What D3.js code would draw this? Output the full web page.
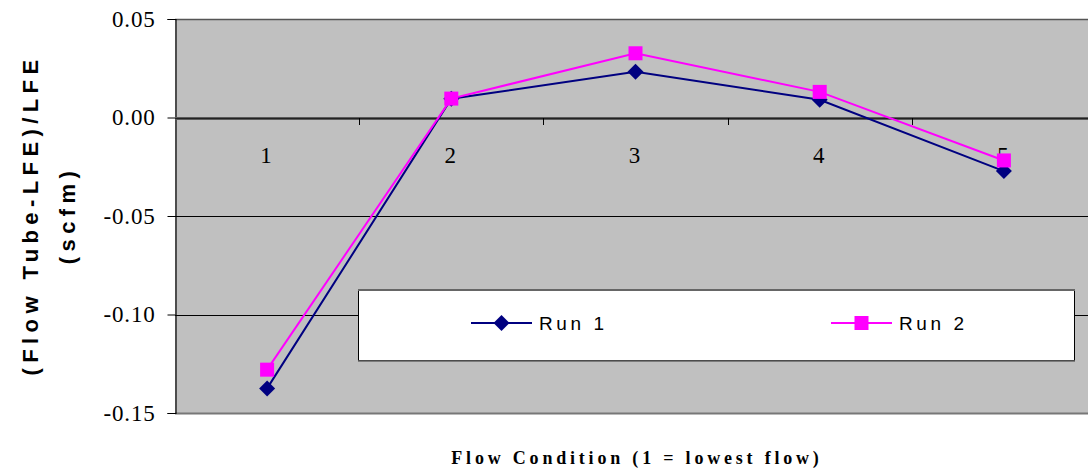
<!DOCTYPE html>
<html>
<head>
<meta charset="utf-8">
<script src="https://cdn.jsdelivr.net/npm/d3@7"></script>
<style>
  html, body { margin: 0; padding: 0; background: #ffffff; }
  svg { display: block; }
</style>
</head>
<body>
<svg id="chart" width="1088" height="468"></svg>
<script>
// Flow condition categories and the two runs
const categories = ["1", "2", "3", "4", "5"];
const run1 = [-0.1375, 0.0095, 0.0232, 0.0090, -0.0272];
const run2 = [-0.1280, 0.0096, 0.0326, 0.0130, -0.0218];
const seriesNames = ["Run 1", "Run 2"];
const yTicks = [0.05, 0.00, -0.05, -0.10, -0.15];

const svg = d3.select("#chart");
const plotLeft = 175, plotRight = 1096, plotTop = 19, plotBottom = 413;
const serif = "'Liberation Serif', 'Times New Roman', serif";
const sans = "'Liberation Sans', Arial, sans-serif";

const x = d3.scalePoint().domain(categories).range([plotLeft, plotRight]).padding(0.5);
const step = x.step();
const y = d3.scaleLinear().domain([-0.15, 0.05]).range([plotBottom, plotTop]);

// plot area
svg.append("rect")
  .attr("x", plotLeft).attr("y", plotTop)
  .attr("width", 1088 - plotLeft).attr("height", plotBottom - plotTop)
  .attr("fill", "#c0c0c0");

// horizontal gridlines
svg.append("g").selectAll("line")
  .data(yTicks.filter(d => d !== 0 && d !== -0.15))
  .join("line")
  .attr("x1", plotLeft).attr("x2", 1088)
  .attr("y1", d => Math.round(y(d)) + 0.5).attr("y2", d => Math.round(y(d)) + 0.5)
  .attr("stroke", d => d === 0.05 ? "#555" : "#000")
  .attr("stroke-width", d => d === 0.05 ? 1.5 : 1);

// bottom border
svg.append("line")
  .attr("x1", plotLeft).attr("x2", 1088)
  .attr("y1", plotBottom + 0.5).attr("y2", plotBottom + 0.5)
  .attr("stroke", "#777").attr("stroke-width", 2);

// value axis
const yAxis = d3.axisLeft(y).tickValues(yTicks).tickSize(8).tickPadding(12)
  .tickFormat(d => d3.format(".2f")(d).replace("−", "-"));
const gy = svg.append("g").attr("transform", `translate(${plotLeft + 0.5},0)`).call(yAxis);
gy.attr("font-family", serif).attr("font-size", 23);
gy.select(".domain").attr("stroke", "#000").attr("stroke-width", 1.2);
gy.selectAll(".tick line").attr("stroke", "#000");
gy.selectAll(".tick text")
  .style("font-family", serif)
  .attr("font-size", 23).attr("letter-spacing", 0.8).attr("fill", "#000");

// category axis along zero
const y0 = Math.round(y(0));
svg.append("line")
  .attr("x1", plotLeft).attr("x2", 1088)
  .attr("y1", y0 + 0.5).attr("y2", y0 + 0.5)
  .attr("stroke", "#5a5a5a").attr("stroke-width", 3);
svg.append("line")
  .attr("x1", plotLeft).attr("x2", 1088)
  .attr("y1", y0 + 0.5).attr("y2", y0 + 0.5)
  .attr("stroke", "#222").attr("stroke-width", 1);
svg.append("g").selectAll("line")
  .data(categories.slice(1))
  .join("line")
  .attr("x1", d => Math.round(x(d) - step / 2) + 0.5)
  .attr("x2", d => Math.round(x(d) - step / 2) + 0.5)
  .attr("y1", y0).attr("y2", y0 + 7)
  .attr("stroke", "#000");
svg.append("g").selectAll("text")
  .data(categories)
  .join("text")
  .attr("x", d => x(d) - 1).attr("y", y0 + 45)
  .attr("text-anchor", "middle")
  .style("font-family", serif)
  .attr("font-size", 23).attr("fill", "#000")
  .text(d => d);

// series lines and markers
const series = [
  { name: seriesNames[0], values: run1, color: "#000080", shape: "diamond" },
  { name: seriesNames[1], values: run2, color: "#ff00ff", shape: "square" }
];
const line = d3.line().x((d, i) => x(categories[i])).y(d => y(d));

function marker(g, shape, color) {
  if (shape === "diamond") {
    g.append("path").attr("d", "M0,-8 L8,0 L0,8 L-8,0 Z").attr("fill", color);
  } else {
    g.append("rect").attr("x", -7).attr("y", -7).attr("width", 14).attr("height", 14).attr("fill", color);
  }
}

series.forEach(s => {
  svg.append("path")
    .datum(s.values)
    .attr("d", line)
    .attr("fill", "none")
    .attr("stroke", s.color)
    .attr("stroke-width", 2);
});
series.forEach(s => {
  s.values.forEach((v, i) => {
    const g = svg.append("g").attr("transform", `translate(${x(categories[i])},${y(v)})`);
    marker(g, s.shape, s.color);
  });
});

// legend
const legend = svg.append("g");
legend.append("rect")
  .attr("x", 358.5).attr("y", 290.5).attr("width", 716).attr("height", 70)
  .attr("fill", "#fff").attr("stroke", "#000").attr("stroke-width", 1);
legend.append("line")
  .attr("x1", 358).attr("x2", 1075).attr("y1", 290).attr("y2", 290)
  .attr("stroke", "#666").attr("stroke-width", 2);
legend.append("line")
  .attr("x1", 358).attr("x2", 1075).attr("y1", 361).attr("y2", 361)
  .attr("stroke", "#666").attr("stroke-width", 1.5);
const legendX = [471, 831];
series.forEach((s, i) => {
  const lx = legendX[i], ly = 323;
  legend.append("line")
    .attr("x1", lx).attr("x2", lx + 61).attr("y1", ly).attr("y2", ly)
    .attr("stroke", s.color).attr("stroke-width", 2);
  const g = legend.append("g").attr("transform", `translate(${lx + 30.5},${ly})`);
  marker(g, s.shape, s.color);
  legend.append("text")
    .attr("x", lx + 68).attr("y", ly + 7)
    .style("font-family", sans)
    .attr("font-size", 19).attr("letter-spacing", 3.6).attr("fill", "#000")
    .text(s.name);
});

// axis titles
svg.append("text")
  .attr("x", 637).attr("y", 464)
  .attr("text-anchor", "middle")
  .style("font-family", serif)
  .attr("font-size", 18).attr("font-weight", "bold").attr("letter-spacing", 3.8)
  .attr("fill", "#000")
  .text("Flow Condition (1 = lowest flow)");

const yTitle = svg.append("text")
  .attr("transform", "translate(0,215) rotate(-90)")
  .attr("text-anchor", "middle")
  .style("font-family", sans)
  .attr("font-size", 22).attr("font-weight", "bold").attr("letter-spacing", 5.4)
  .attr("fill", "#000");
yTitle.append("tspan").attr("x", 0).attr("y", 38).text("(Flow Tube-LFE)/LFE");
yTitle.append("tspan").attr("x", 0).attr("y", 75).text("(scfm)");
</script>
</body>
</html>
